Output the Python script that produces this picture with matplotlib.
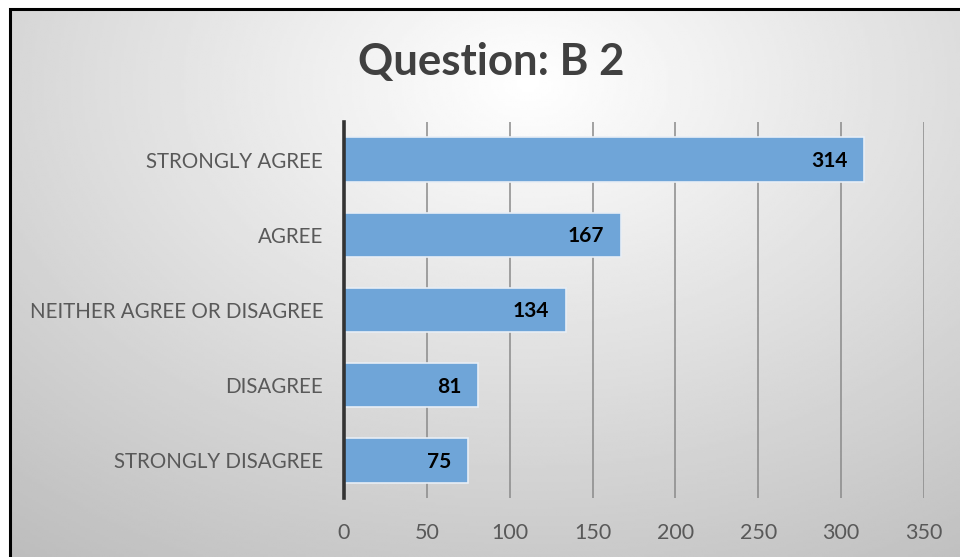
import numpy as np
import matplotlib.pyplot as plt
from matplotlib.patches import Rectangle

categories = ['STRONGLY AGREE', 'AGREE', 'NEITHER AGREE OR DISAGREE', 'DISAGREE', 'STRONGLY DISAGREE']
counts = [314, 167, 134, 81, 75]
xticks = [0, 50, 100, 150, 200, 250, 300, 350]

plt.rcParams['font.family'] = ['Lato', 'DejaVu Sans']

fig = plt.figure(figsize=(9.6, 5.57), dpi=100)

# radial gradient background behind the chart
bg = fig.add_axes([0, 0, 1, 1], zorder=0)
gx, gy = np.meshgrid(np.linspace(0, 1, 400), np.linspace(0, 1, 240))
r = np.sqrt(((gx - 0.55) / 0.75) ** 2 + ((gy - 0.15) / 0.9) ** 2)
shade = np.clip(1.0 - 0.22 * r, 0, 1)
bg.imshow(shade, cmap='gray', vmin=0, vmax=1, extent=[0, 1, 0, 1], aspect='auto', origin='upper')
bg.set_xlim(0, 1)
bg.set_ylim(0, 1)
bg.axis('off')
# white strip outside the frame, then the frame itself
bg.add_patch(Rectangle((0, 0), 10 / 960, 1, color='white', zorder=2))
bg.add_patch(Rectangle((0, 1 - 9 / 557), 1, 9 / 557, color='white', zorder=2))
bg.add_patch(Rectangle((10 / 960, -0.02), 1, 1 - 9 / 557 + 0.02, fill=False,
                       edgecolor='black', lw=2.2, zorder=3))

ax = fig.add_axes([344 / 960, 59 / 557, 580 / 960, 376 / 557], zorder=1)
ax.patch.set_alpha(0)
y = np.arange(len(categories))
ax.barh(y, counts, height=0.59, color='#6fa5d8', edgecolor='#e8eef5', lw=1.2, zorder=3)
for yi, v in zip(y, counts):
    ax.annotate(str(v), (v, yi), xytext=(-12, -1), textcoords='offset points',
                ha='right', va='center', fontsize=15, fontweight='bold', color='black', zorder=4)

ax.set_xlim(0, 350)
ax.set_ylim(len(categories) - 0.5, -0.5)
ax.set_xticks(xticks)
ax.set_yticks(y)
ax.set_yticklabels(categories)
ax.grid(axis='x', color='#8a8a8a', lw=1.1, zorder=1)
ax.tick_params(axis='both', length=0, colors='#595959')
ax.tick_params(axis='x', pad=18, labelsize=15.5)
ax.tick_params(axis='y', pad=15, labelsize=14.8)
for s in ['top', 'right', 'bottom']:
    ax.spines[s].set_visible(False)
ax.spines['left'].set_color('#333333')
ax.spines['left'].set_linewidth(2.6)
ax.spines['left'].set_zorder(5)

fig.text(491 / 960, 1 - 62 / 557, 'Question: B 2', ha='center', va='center',
         fontsize=31.5, fontweight='bold', color='#404040')

fig.savefig('out.png', dpi=100)
